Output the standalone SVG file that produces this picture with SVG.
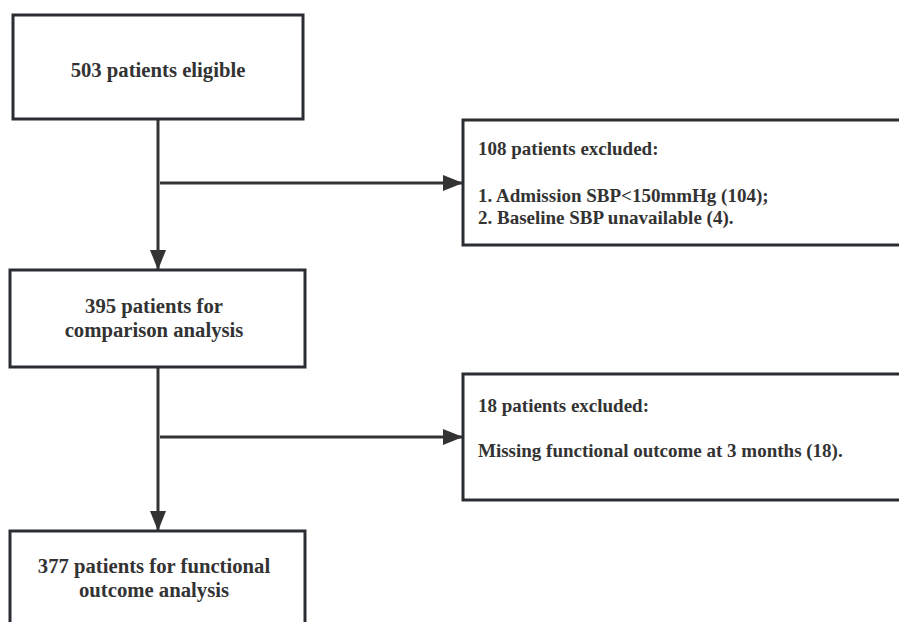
<svg xmlns="http://www.w3.org/2000/svg" width="899" height="622" viewBox="0 0 899 622">
<style>
.box{fill:#fff;stroke:#2a2e33;stroke-width:3}
.t{font-family:"Liberation Serif","Times New Roman",serif;font-weight:bold;font-size:19px;fill:#333}
.c{text-anchor:middle;font-size:20.7px}
.ln{stroke:#333;stroke-width:3;fill:none}
</style>
<defs>
<marker id="ah" viewBox="0 0 20 16" refX="20" refY="8" markerWidth="20" markerHeight="16" markerUnits="userSpaceOnUse" orient="auto">
<path d="M0,0 L20,8 L0,16 Z" fill="#333"/>
</marker>
</defs>
<rect width="899" height="622" fill="#fff"/>
<g id="connectors">
<path class="ln" d="M158,120 V270" marker-end="url(#ah)"/>
<path class="ln" d="M160,183 H463" marker-end="url(#ah)"/>
<path class="ln" d="M158,367 V531" marker-end="url(#ah)"/>
<path class="ln" d="M160,437 H463" marker-end="url(#ah)"/>
</g>
<g id="n1">
<rect class="box" x="13" y="15" width="290" height="104"/>
<text class="t c" x="158" y="77">503 patients eligible</text>
</g>
<g id="n2">
<rect class="box" x="463" y="120" width="440" height="125"/>
<text class="t" x="478" y="155">108 patients excluded:</text>
<text class="t" x="478" y="202">1. Admission SBP&lt;150mmHg (104);</text>
<text class="t" x="478" y="224">2. Baseline SBP unavailable (4).</text>
</g>
<g id="n3">
<rect class="box" x="10" y="270" width="295" height="97"/>
<text class="t c" x="154" y="313">395 patients for</text>
<text class="t c" x="154" y="337">comparison analysis</text>
</g>
<g id="n4">
<rect class="box" x="463" y="374" width="440" height="126"/>
<text class="t" x="478" y="412">18 patients excluded:</text>
<text class="t" x="478" y="457">Missing functional outcome at 3 months (18).</text>
</g>
<g id="n5">
<rect class="box" x="10" y="531" width="295" height="100"/>
<text class="t c" x="154" y="573">377 patients for functional</text>
<text class="t c" x="154" y="597">outcome analysis</text>
</g>
</svg>
